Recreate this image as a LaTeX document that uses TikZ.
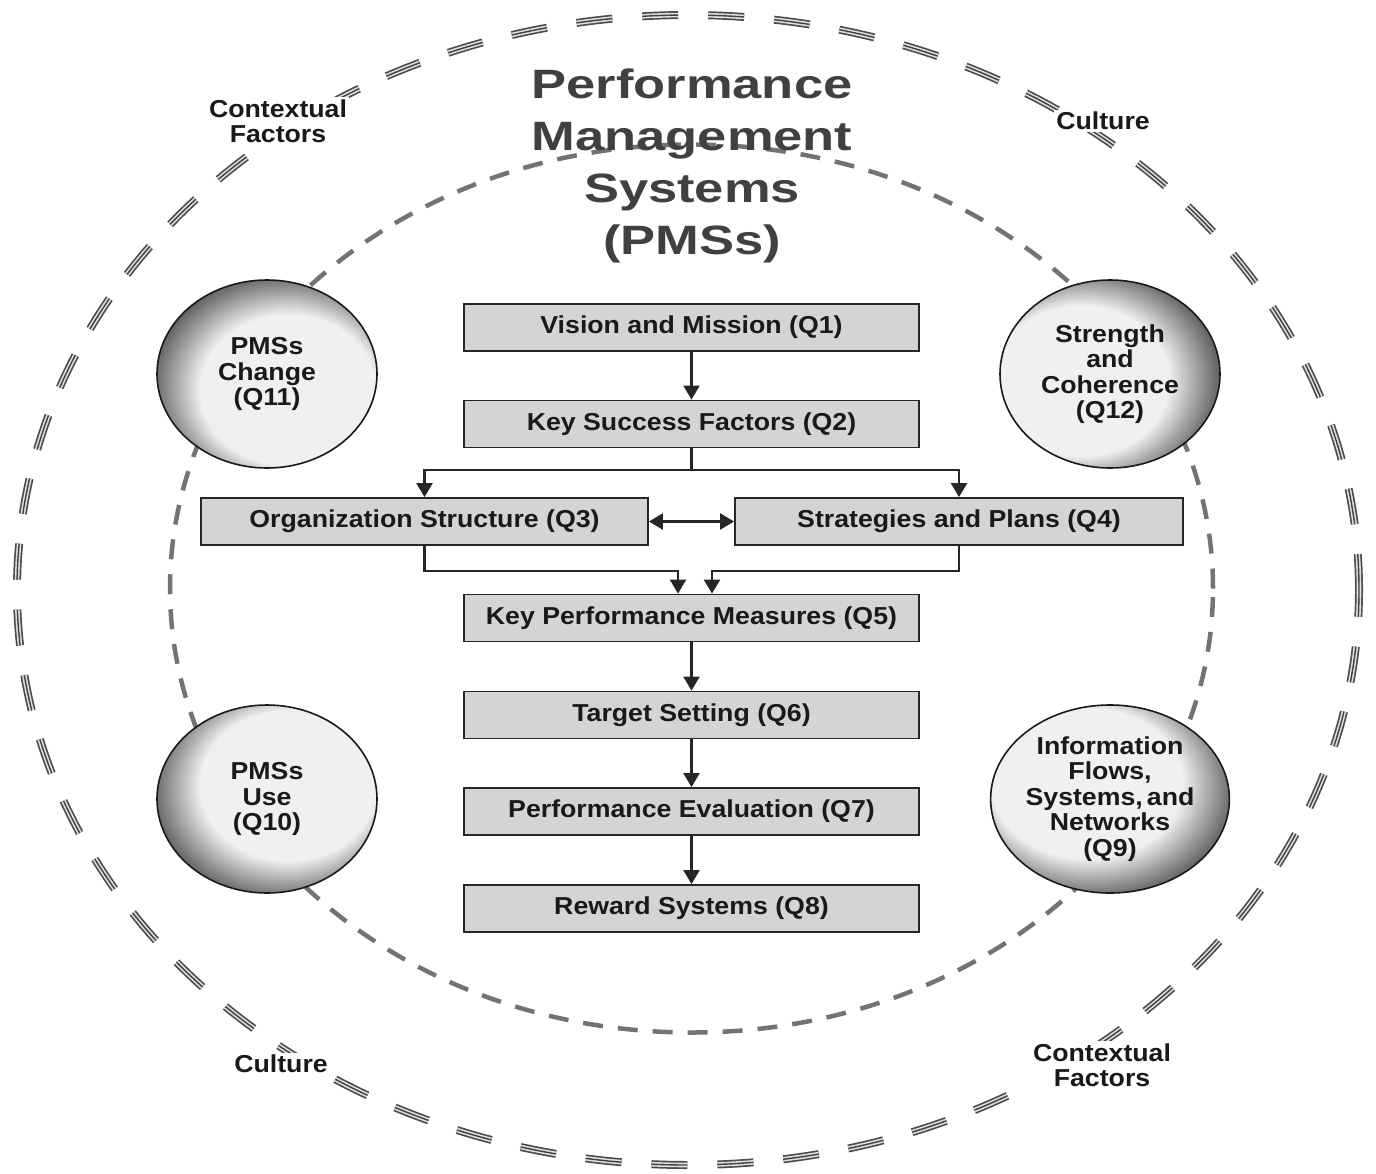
\documentclass[tikz,border=0pt]{standalone}
\usepackage{fontspec}
\setmainfont{Liberation Sans}[FakeStretch=1.09]
\newfontfamily\titlefont{Liberation Sans}[FakeStretch=1.28]
\usetikzlibrary{shapes.geometric,arrows.meta,calc}
\definecolor{lightc}{gray}{0.94}
\definecolor{darkc}{gray}{0.35}
\definecolor{boxfill}{gray}{0.83}
\definecolor{txt}{gray}{0.1}
\pgfdeclareradialshading{shchg}{\pgfpoint{8bp}{-7bp}}{color(0bp)=(lightc); color(20bp)=(lightc); color(30bp)=(darkc); color(50bp)=(darkc)}
\pgfdeclareradialshading{shstr}{\pgfpoint{-11bp}{-3bp}}{color(0bp)=(lightc); color(20bp)=(lightc); color(30bp)=(darkc); color(50bp)=(darkc)}
\pgfdeclareradialshading{shuse}{\pgfpoint{8bp}{6bp}}{color(0bp)=(lightc); color(20bp)=(lightc); color(30bp)=(darkc); color(50bp)=(darkc)}
\pgfdeclareradialshading{shinf}{\pgfpoint{-8bp}{7bp}}{color(0bp)=(lightc); color(20bp)=(lightc); color(30bp)=(darkc); color(50bp)=(darkc)}
\newcommand{\bodyfont}{\fontsize{24.5}{25.5}\selectfont\bfseries}
\begin{document}
\begin{tikzpicture}[x=1pt,y=-1pt,
  ring/.style={line width=8pt, draw=black!70, dash pattern=on 36pt off 30pt,
    postaction={draw=gray!25, line width=4.6pt, dash pattern=on 36pt off 30pt},
    postaction={draw=black!75, line width=1.4pt, dash pattern=on 36pt off 30pt}},
  innerring/.style={line width=4.5pt, draw=black!55, dash pattern=on 20pt off 15pt},
  lbl/.style={fill=white, align=center, inner sep=2pt, font=\bodyfont, text=txt},
  titlestyle/.style={align=center, font=\titlefont\fontsize{41}{52}\selectfont\bfseries, text=black!75},
  box/.style={rectangle, draw=black!85, fill=boxfill, line width=1.8pt, minimum height=47pt, inner sep=0pt, font=\bodyfont, text=txt},
  bubble/.style={ellipse, draw=black!90, line width=1.6pt, minimum width=220pt, minimum height=188pt, inner sep=0pt, align=center, font=\bodyfont, text=txt},
  conn/.style={line width=2.2pt, draw=black!85},
  arr/.style={conn, -{Triangle[length=14pt,width=16pt]}},
  arrtwo/.style={conn, {Triangle[length=14pt,width=16pt]}-{Triangle[length=14pt,width=16pt]}}
]
\useasboundingbox (0,0) rectangle (1376,1173);

% outer ring and its labels
\draw[ring] (688,590) ellipse [x radius=671pt, y radius=575pt];
\node[lbl] (cf1) at (278,121) {Contextual\\Factors};
\node[lbl] (cu1) at (1103,121) {Culture};
\node[lbl] (cu2) at (281,1064) {Culture};
\node[lbl] (cf2) at (1102,1065) {Contextual\\Factors};

% inner ring
\draw[innerring] (691.5,588.5) ellipse [x radius=521.5pt, y radius=444pt];

% title
\node[titlestyle] (title) at (692,166) {Performance\\Management\\Systems\\(PMSs)};

% boxes
\node[box, minimum width=455pt] (q1) at (691.5,327.5) {Vision and Mission (Q1)};
\node[box, minimum width=455pt] (q2) at (691.5,424) {Key Success Factors (Q2)};
\node[box, minimum width=447pt] (q3) at (424.5,521.5) {Organization Structure (Q3)};
\node[box, minimum width=448pt] (q4) at (959,521.5) {Strategies and Plans (Q4)};
\node[box, minimum width=455pt] (q5) at (691.5,618) {Key Performance Measures (Q5)};
\node[box, minimum width=455pt] (q6) at (691.5,715) {Target Setting (Q6)};
\node[box, minimum width=455pt] (q7) at (691.5,811.5) {Performance Evaluation (Q7)};
\node[box, minimum width=455pt] (q8) at (691.5,908.5) {Reward Systems (Q8)};

% connectors
\coordinate (split) at (691.5,470);
\draw[arr] (q1.south) -- (q2.north);
\draw[conn] (q2.south) -- (split);
\draw[arr] (split) -| (q3.north);
\draw[arr] (split) -| (q4.north);
\draw[arrtwo] (q3.east) -- (q4.west);
\draw[arr] (q3.south) -- ++(0,25) -| ([xshift=-13.5pt]q5.north);
\draw[arr] (q4.south) -- ++(0,25) -| ([xshift=20.5pt]q5.north);
\draw[arr] (q5.south) -- (q6.north);
\draw[arr] (q6.south) -- (q7.north);
\draw[arr] (q7.south) -- (q8.north);

% bubbles
\node[bubble, shading=shchg] (q11) at (267,374) {PMSs\\Change\\(Q11)};
\node[bubble, shading=shstr] (q12) at (1110,374) {Strength\\and\\Coherence\\(Q12)};
\node[bubble, shading=shuse] (q10) at (267,799) {PMSs\\Use\\(Q10)};
\node[bubble, shading=shinf] (q9) at (1110,799) {Information\\Flows,\\Systems,\,and\\Networks\\(Q9)};
\end{tikzpicture}
\end{document}
